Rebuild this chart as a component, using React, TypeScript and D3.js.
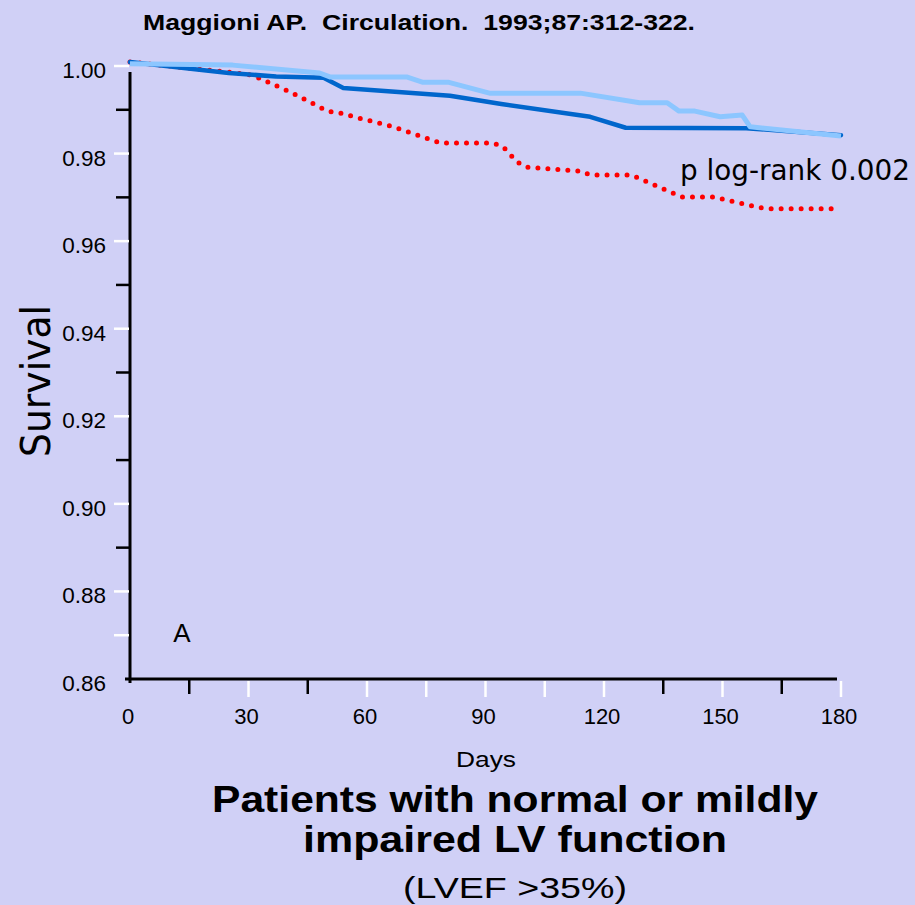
import React from "react";
import * as d3 from "d3";

// Kaplan–Meier curves (survival vs. days), read as polyline vertices
const darkDays = [0, 25, 37, 49, 54, 81, 94, 116.5, 125.5, 156, 180];
const darkSurv = [1.0009, 0.9984, 0.9976, 0.9973, 0.995, 0.9932, 0.9913, 0.9884, 0.9859, 0.9858, 0.9842];

const lightDays = [0, 26, 48, 50.6, 70, 74, 80.5, 91, 114, 129, 136, 139, 143, 149.4, 155, 157, 180];
const lightSurv = [1.0005, 1.0002, 0.9984, 0.9975, 0.9975, 0.9963, 0.9963, 0.9938, 0.9938, 0.9916, 0.9916, 0.9897, 0.9897, 0.9884, 0.9888, 0.9861, 0.984];

const redDays = [0, 25, 31, 40.5, 50, 53, 58, 66, 78.7, 92, 94.5, 98, 100.5, 114, 116.5, 127, 139.7, 147.6, 160.8, 180];
const redSurv = [1.0009, 0.9986, 0.9979, 0.9941, 0.9897, 0.9893, 0.9881, 0.9863, 0.9824, 0.9824, 0.9815, 0.9781, 0.9769, 0.976, 0.9751, 0.9751, 0.9701, 0.9701, 0.9674, 0.9674];

const xLabels = [0, 30, 60, 90, 120, 150, 180];
const xTicksBlack = [15, 45, 135, 165];
const xTicksWhite = [30, 60, 75, 90, 105, 120, 150, 180];
const yLabels = [1.0, 0.98, 0.96, 0.94, 0.92, 0.9, 0.88, 0.86];
const yTicksWhite = [1.0, 0.98, 0.96, 0.94, 0.92, 0.9, 0.88, 0.87];
const yTicksBlack = [0.99, 0.97, 0.95, 0.93, 0.91, 0.89];

const W = 915;
const H = 905;
const BG = "#d0d0f6";

export default function App() {
  const x = d3.scaleLinear().domain([0, 180]).range([130, 841]);
  const y = d3.scaleLinear().domain([0.86, 1.0]).range([679, 66]);

  const mk = (ds: number[], vs: number[]) =>
    d3
      .line<number>()
      .x((_, i) => x(ds[i]))
      .y((v) => y(v))(vs) as string;

  const sans = "'Liberation Sans', Arial, sans-serif";
  const narrow = "'Liberation Sans Narrow', 'Liberation Sans', Arial, sans-serif";
  const deja = "'DejaVu Sans', Verdana, sans-serif";

  return (
    <div style={{ position: "fixed", left: 0, top: 0, width: W, height: H, background: BG }}>
      <svg width={W} height={H} style={{ display: "block" }}>
        <rect width={W} height={H} fill={BG} />

        <text x={143} y={30} fontFamily={narrow} fontWeight="bold" fontSize={22}
          textLength={552} lengthAdjust="spacingAndGlyphs" style={{ whiteSpace: "pre" }}>
          {"Maggioni AP.  Circulation.  1993;87:312-322."}
        </text>

        {/* axes */}
        <line x1={130} x2={130} y1={72} y2={683} stroke="#000" strokeWidth={3} />
        <line x1={125} x2={837} y1={679} y2={679} stroke="#000" strokeWidth={3} />

        {yTicksBlack.map((v) => (
          <line key={"yb" + v} x1={116} x2={131} y1={y(v)} y2={y(v)} stroke="#000" strokeWidth={2.5} />
        ))}
        {yTicksWhite.map((v) => (
          <line key={"yw" + v} x1={114} x2={129} y1={y(v)} y2={y(v)} stroke="#fff" strokeWidth={2.5} />
        ))}
        {xTicksBlack.map((d) => (
          <line key={"xb" + d} x1={x(d)} x2={x(d)} y1={678} y2={694} stroke="#000" strokeWidth={2.5} />
        ))}
        {xTicksWhite.map((d) => (
          <line key={"xw" + d} x1={x(d)} x2={x(d)} y1={681} y2={697} stroke="#fff" strokeWidth={2.5} />
        ))}

        {yLabels.map((v) => (
          <text key={"yl" + v} x={106} y={y(v) + 12} textAnchor="end" fontFamily={sans} fontSize={22.5}>
            {v.toFixed(2)}
          </text>
        ))}
        {xLabels.map((d) => (
          <text key={"xl" + d} x={x(d) - 2} y={724} textAnchor="middle" fontFamily={sans} fontSize={22}>
            {d}
          </text>
        ))}

        {/* curves */}
        <path d={mk(redDays, redSurv)} fill="none" stroke="#ff0000" strokeWidth={5}
          strokeLinecap="round" strokeDasharray="0 10" />
        <path d={mk(darkDays, darkSurv)} fill="none" stroke="#0066cc" strokeWidth={4.5}
          strokeLinecap="round" strokeLinejoin="round" />
        <path d={mk(lightDays, lightSurv)} fill="none" stroke="#8cc6ff" strokeWidth={5}
          strokeLinejoin="round" />

        <text x={680} y={180} fontFamily={deja} fontSize={28} textLength={230} lengthAdjust="spacingAndGlyphs">
          p log-rank 0.002
        </text>

        <text x={182} y={642} textAnchor="middle" fontFamily={sans} fontSize={26}>A</text>

        <text transform="translate(50,381) rotate(-90)" textAnchor="middle" fontFamily={deja}
          fontSize={41} textLength={152} lengthAdjust="spacingAndGlyphs">
          Survival
        </text>

        <text x={486} y={767} textAnchor="middle" fontFamily={narrow} fontSize={22}
          textLength={60} lengthAdjust="spacingAndGlyphs">
          Days
        </text>
        <text x={515} y={812} textAnchor="middle" fontFamily={narrow} fontWeight="bold" fontSize={36}
          textLength={606} lengthAdjust="spacingAndGlyphs">
          Patients with normal or mildly
        </text>
        <text x={515} y={852} textAnchor="middle" fontFamily={narrow} fontWeight="bold" fontSize={36}
          textLength={424} lengthAdjust="spacingAndGlyphs">
          impaired LV function
        </text>
        <text x={515} y={898} textAnchor="middle" fontFamily={narrow} fontSize={30}
          textLength={224} lengthAdjust="spacingAndGlyphs">
          (LVEF &gt;35%)
        </text>
      </svg>
    </div>
  );
}
